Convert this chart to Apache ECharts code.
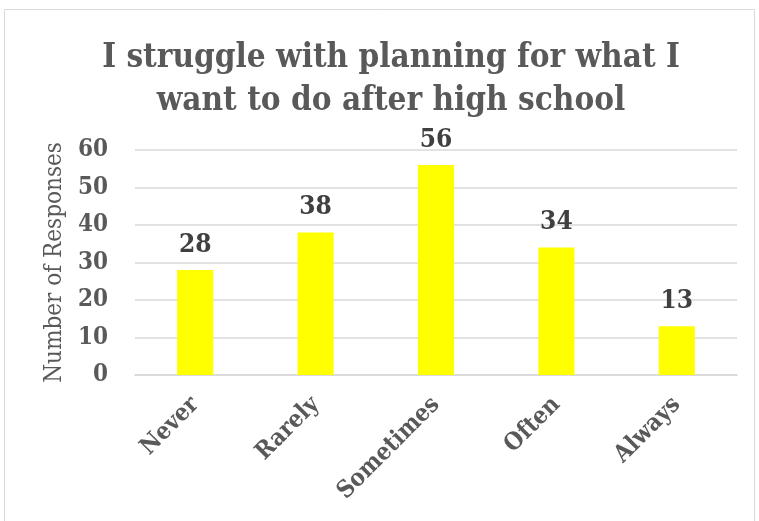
<!DOCTYPE html>
<html><head><meta charset="utf-8">
<script src="https://cdn.jsdelivr.net/npm/echarts@6/dist/echarts.min.js"></script>
<style>html,body{margin:0;padding:0;background:#fff}#c{width:759px;height:521px}</style>
</head><body><div id="c"></div>
<script>
const titleText = 'I struggle with planning for what I\nwant to do after high school';
const categories = ['Never', 'Rarely', 'Sometimes', 'Often', 'Always'];
const responses = [28, 38, 56, 34, 13];
const yTicks = [0, 10, 20, 30, 40, 50, 60];
const yAxisName = 'Number of Responses';

const serif = '"DejaVu Serif Condensed", "DejaVu Serif", serif';
const chart = echarts.init(document.getElementById('c'), null, {renderer: 'canvas'});
chart.setOption({
  backgroundColor: '#fff',
  animation: false,
  graphic: [{
    type: 'rect', shape: {x: 4.5, y: 9.5, width: 750, height: 520},
    style: {fill: 'none', stroke: '#d9d9d9', lineWidth: 1}, silent: true
  }],
  title: {
    text: titleText, left: 386, textAlign: 'center', top: 32,
    textStyle: {fontFamily: serif, fontWeight: 'bold', fontSize: 33, color: '#595959', lineHeight: 43}
  },
  grid: {left: 135, right: 22, top: 150, bottom: 146, containLabel: false},
  xAxis: {
    type: 'category', data: categories,
    axisLine: {lineStyle: {color: '#d9d9d9', width: 1.5}},
    axisTick: {show: false},
    axisLabel: {rotate: 45, margin: 26, fontFamily: serif, fontWeight: 'bold', fontSize: 24, color: '#595959', interval: 0}
  },
  yAxis: {
    type: 'value', min: yTicks[0], max: yTicks[yTicks.length - 1], interval: 10,
    name: yAxisName, nameLocation: 'middle', nameGap: 68, nameRotate: 90,
    nameTextStyle: {fontFamily: serif, fontSize: 24, color: '#595959'},
    axisLine: {show: false}, axisTick: {show: false},
    splitLine: {lineStyle: {color: '#d9d9d9', width: 1.5}},
    axisLabel: {margin: 27, fontFamily: serif, fontWeight: 'bold', fontSize: 24, color: '#595959'}
  },
  series: [{
    type: 'bar', data: responses, barWidth: '30%',
    itemStyle: {color: '#ffff00'},
    label: {show: true, position: 'top', distance: 12, fontFamily: serif, fontWeight: 'bold', fontSize: 26, color: '#404040'}
  }]
});
</script></body></html>
